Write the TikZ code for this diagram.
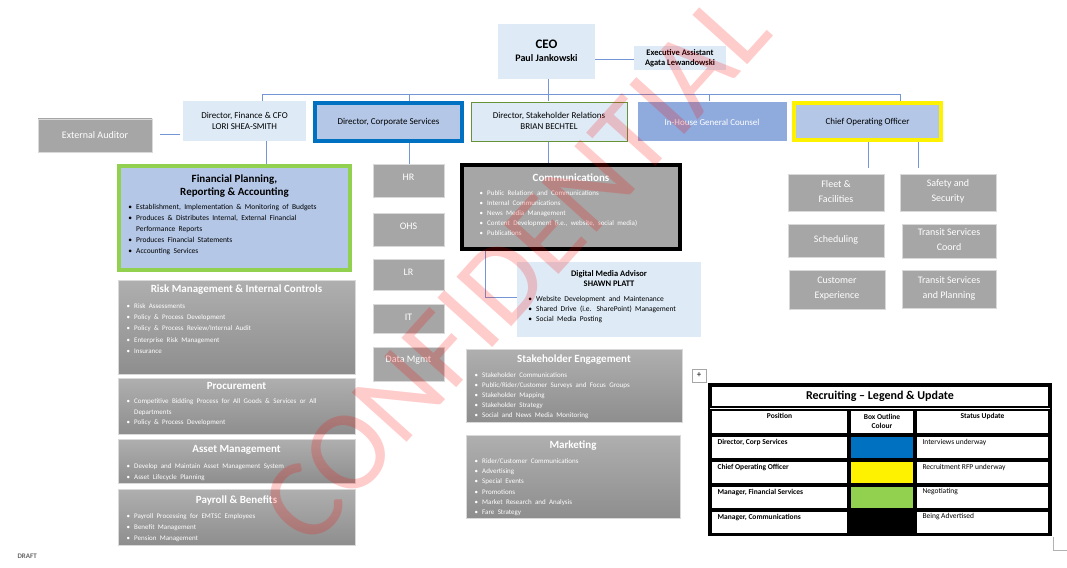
\documentclass[tikz,border=0pt]{standalone}
\usepackage{fontspec}
\setmainfont{Carlito}
\usepackage{enumitem}
\usetikzlibrary{positioning}
\definecolor{lb}{HTML}{DEEBF7}
\definecolor{mb}{HTML}{B4C7E7}
\definecolor{db}{HTML}{8FAADC}
\definecolor{gy}{HTML}{A6A6A6}
\definecolor{gyd}{HTML}{8E8E8E}
\definecolor{ln}{HTML}{7596D6}
\definecolor{cblue}{HTML}{0070C0}
\definecolor{cgreen}{HTML}{92D050}
\newcommand\blist[3]{\fontsize{#1}{#2}\selectfont\raggedright\begin{itemize}[leftmargin=10pt,labelsep=4pt,itemsep=0pt,parsep=0pt,topsep=0pt,partopsep=0pt,label=\textbullet]#3\end{itemize}}
\tikzset{
  conn/.style={ln, line width=0.8pt},
  gbox/.style={draw=gray!30, line width=0.6pt, top color=gy, bottom color=gy},
  grad/.style={draw=gray!30, line width=0.6pt, top color=gy!90, bottom color=gyd},
  wt/.style={text=white, font=\fontsize{10}{12}\selectfont, align=center},
  ttl/.style={font=\bfseries\fontsize{11}{13}\selectfont, align=center},
  lt/.style={font=\fontsize{9}{11}\selectfont, align=center},
  cell/.style={draw=black, line width=1.2pt},
  lst/.style={anchor=north west, inner sep=0},
}
\begin{document}
\begin{tikzpicture}[x=1pt,y=-1pt]
\useasboundingbox (0,0) rectangle (1067,567);
% connectors
\draw[conn] (595,59) -- (634,59);
\draw[conn] (548,79) -- (548,94);
\draw[conn] (262,94) -- (900,94);
\foreach \x in {262,409,548,709,900} \draw[conn] (\x,94) -- (\x,101);
\draw[conn] (266,140) -- (266,165);
\draw[conn] (409,143) -- (409,164);
\draw[conn] (548,141) -- (548,164);
\draw[conn] (868,141) -- (868,168);
\draw[conn] (918,141) -- (918,168);
\draw[conn] (160,134) -- (180,134);
\draw[conn] (485,250) -- (485,297) -- (517,297);
% top
\draw[fill=lb, draw=none] (498,24) rectangle (595,79);
\node[font=\bfseries, align=center] (ceo) at (546.5,51) {{\fontsize{13}{16}\selectfont CEO}\\[1pt]{\fontsize{10}{12}\selectfont Paul Jankowski}};
\draw[fill=lb, draw=none] (634,46) rectangle (726,70);
\node[font=\bfseries\fontsize{8.5}{10}\selectfont, align=center] (ea) at (680,58) {Executive Assistant\\Agata Lewandowski};
% row 2
\draw[fill=lb, draw=none] (183,101) rectangle (306,141);
\node[lt] (fin) at (244.5,121) {Director, Finance \& CFO\\LORI SHEA-SMITH};
\draw[fill=mb, draw=cblue, line width=4pt] (315,103) rectangle (462,141);
\node[lt] (corp) at (388.5,122) {Director, Corporate Services};
\draw[fill=lb, draw=cgreen!70!black, line width=0.5pt] (471,102) rectangle (627,141);
\node[lt] (stk) at (549,121) {Director, Stakeholder Relations\\BRIAN BECHTEL};
\draw[fill=db, draw=none] (638,102) rectangle (787,141);
\node[lt, text=white] (gc) at (712,122) {In-House General Counsel};
\draw[fill=mb, draw=yellow, line width=4pt] (794,103) rectangle (941,140);
\node[lt] (coo) at (867.5,122) {Chief Operating Officer};
\draw[gbox] (38,119) rectangle (152,152);
\node[wt] (ext) at (95,135.5) {External Auditor};
% financial planning
\draw[fill=mb, draw=cgreen, line width=3.5pt] (119,166) rectangle (350,270);
\node[ttl, font=\bfseries\fontsize{11}{13.5}\selectfont] (fp) at (234.5,186) {Financial Planning,\\Reporting \& Accounting};
\node[lst, text width=210pt] (fpl) at (126,198) {\blist{7.5}{11}{\item Establishment, Implementation \& Monitoring of Budgets \item Produces \& Distributes Internal, External Financial Performance Reports \item Produces Financial Statements \item Accounting Services}};
% left gray column
\draw[grad] (118,280) rectangle (355,374);
\node[ttl, text=white] (risk) at (236.5,290) {Risk Management \& Internal Controls};
\node[lst, text width=220pt, text=white] (riskl) at (124,297) {\blist{7}{11.2}{\item Risk Assessments \item Policy \& Process Development \item Policy \& Process Review/Internal Audit \item Enterprise Risk Management \item Insurance}};
\draw[grad] (118,378) rectangle (355,434);
\node[ttl, text=white] (proc) at (236.5,386) {Procurement};
\node[lst, text width=225pt, text=white] (procl) at (124,393) {\blist{7}{10.5}{\item Competitive Bidding Process for All Goods \& Services or All Departments \item Policy \& Process Development}};
\draw[grad] (118,439) rectangle (355,483);
\node[ttl, text=white] (asset) at (236.5,450) {Asset Management};
\node[lst, text width=225pt, text=white] (assetl) at (124,457) {\blist{7}{11}{\item Develop and Maintain Asset Management System \item Asset Lifecycle Planning}};
\draw[grad] (118,489) rectangle (355,545);
\node[ttl, text=white] (pay) at (236.5,500) {Payroll \& Benefits};
\node[lst, text width=225pt, text=white] (payl) at (124,507) {\blist{7}{11}{\item Payroll Processing for EMTSC Employees \item Benefit Management \item Pension Management}};
% corp services column
\foreach \n/\t/\a/\b in {hr/HR/164/197, ohs/OHS/213/246, lr/LR/259/290, it/IT/304/333, dm/Data Mgmt/347/381}{
  \draw[gbox] (373,\a) rectangle (444,\b);
  \node[wt] (\n) at (408.5,\a+13) {\t};
}
% communications
\draw[fill=gy, draw=black, line width=3.5pt] (462,165) rectangle (680,249);
\node[ttl, text=white] (com) at (571,178) {Communications};
\node[lst, text width=180pt, text=white] (coml) at (477,185) {\blist{7}{10}{\item Public Relations and Communications \item Internal Communications \item News Media Management \item Content Development (i.e., website, social media) \item Publications}};
\draw[fill=lb, draw=none] (517,262) rectangle (701,337);
\node[font=\bfseries\fontsize{8.5}{10.5}\selectfont, align=center] (dma) at (609,278.5) {Digital Media Advisor\\SHAWN PLATT};
\node[lst, text width=170pt] (dmal) at (526,291) {\blist{7.5}{10}{\item Website Development and Maintenance \item Shared Drive (i.e. SharePoint) Management \item Social Media Posting}};
\draw[grad] (466,349) rectangle (682,422);
\node[ttl, text=white] (se) at (574,360) {Stakeholder Engagement};
\node[lst, text width=210pt, text=white] (sel) at (472,367) {\blist{7}{10}{\item Stakeholder Communications \item Public/Rider/Customer Surveys and Focus Groups \item Stakeholder Mapping \item Stakeholder Strategy \item Social and News Media Monitoring}};
\draw[grad] (466,435) rectangle (680,518);
\node[ttl, text=white] (mk) at (573,446) {Marketing};
\node[lst, text width=200pt, text=white] (mkl) at (472,453) {\blist{7}{10.2}{\item Rider/Customer Communications \item Advertising \item Special Events \item Promotions \item Market Research and Analysis \item Fare Strategy}};
% COO boxes
\foreach \n/\t/\xa/\ya/\xb/\yb in {fl/{Fleet \&\\Facilities}/788/174/884/211, sa/{Safety and\\Security}/900/174/996/211, sc/Scheduling/788/224/884/257, tc/{Transit Services\\Coord}/902/224/996/258, ce/{Customer\\Experience}/789/270/885/309, tp/{Transit Services\\and Planning}/902/270/996/308}{
  \draw[gbox] (\xa,\ya) rectangle (\xb,\yb);
  \node[wt, font=\fontsize{10}{15}\selectfont] (\n) at ({(\xa+\xb)/2},{(\ya+\yb)/2-1}) {\t};
}
% table
\draw[draw=gray!70, fill=white] (692,369) rectangle (706,382);
\node[font=\fontsize{9}{9}\selectfont, inner sep=0] (mv) at (699,375.5) {+};
\draw[line width=1.5pt] (709,384) rectangle (1051,535);
\draw[cell] (711,386) rectangle (1049,407);
\node[font=\bfseries\fontsize{12}{14}\selectfont] (rt) at (880,396) {Recruiting -- Legend \& Update};
\foreach \ya/\yb in {410/434,436/459,461/484,486/509,511/534}{
  \draw[cell] (711,\ya) rectangle (848,\yb);
  \draw[cell] (850,\ya) rectangle (914,\yb);
  \draw[cell] (916,\ya) rectangle (1049,\yb);
}
\fill[cblue] (851,437) rectangle (913,458);
\fill[yellow] (851,462) rectangle (913,483);
\fill[cgreen] (851,487) rectangle (913,508);
\fill[black] (851,512) rectangle (913,533);
\node[font=\bfseries\fontsize{7.5}{9}\selectfont] (hp) at (779.5,416) {Position};
\node[font=\bfseries\fontsize{7.5}{9}\selectfont, align=center] (hb) at (882,421.5) {Box Outline\\Colour};
\node[font=\bfseries\fontsize{7.5}{9}\selectfont] (hs) at (982.5,416) {Status Update};
\foreach \y/\p/\s in {442/{Director, Corp Services}/{Interviews underway}, 467/{Chief Operating Officer}/{Recruitment RFP underway}, 492/{Manager, Financial Services}/{Negotiating}, 517/{Manager, Communications}/{Being Advertised}}{
  \node[font=\bfseries\fontsize{7.5}{9}\selectfont, anchor=west] at (714,\y) {\p};
  \node[font=\fontsize{7.5}{9}\selectfont, anchor=west] at (919,\y) {\s};
}
\draw[gray!60] (1053,537) -- (1053,550) -- (1067,550);
\node[font=\bfseries\fontsize{7}{8}\selectfont, text=gray!80!black, anchor=west] (draft) at (14,556) {DRAFT};
% watermark
\node[rotate=48, font=\fontsize{115}{115}\selectfont, text=red, opacity=0.2, inner sep=0] (wm) at (515,268) {CONFIDENTIAL};
\end{tikzpicture}
\end{document}
